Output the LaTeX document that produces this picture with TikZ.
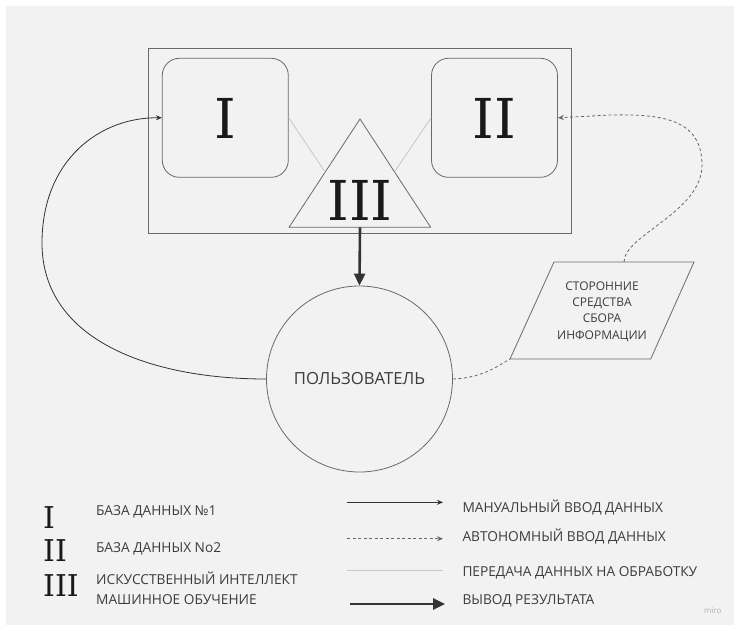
\documentclass[tikz,border=0pt]{standalone}
\usepackage{fontspec}
\setsansfont{Open Sans}
\newfontfamily\numfont{DejaVu Serif}
\usetikzlibrary{arrows.meta}
\definecolor{bg}{HTML}{F2F2F2}
\definecolor{edge}{HTML}{6A6A6A}
\definecolor{ink}{HTML}{333333}
\definecolor{txt}{HTML}{3C3C3C}
\begin{document}
\begin{tikzpicture}[x=1pt,y=-1pt,
  outline/.style={draw=edge, line width=0.8pt},
  dbbox/.style={outline, rounded corners=17pt, minimum width=126pt, minimum height=119pt, inner sep=0pt},
  bignum/.style={font=\numfont\fontsize{55}{55}\selectfont, text=black!90, inner sep=0pt},
  legnum/.style={font=\numfont\fontsize{30}{30}\selectfont, text=black!90, inner sep=0pt, anchor=base west},
  lbl/.style={font=\sffamily\fontsize{13.7}{15}\selectfont, text=txt, inner sep=0pt, anchor=base west},
  manual/.style={draw=ink, line width=0.8pt, -{Stealth[length=6pt,width=5pt]}},
  autoline/.style={draw=black!60, line width=0.8pt, dash pattern=on 3pt off 2.5pt},
  autoarrow/.style={autoline, -{Stealth[length=6pt,width=5pt]}},
  transfer/.style={draw=black!22, line width=0.8pt},
  result/.style={draw=ink, line width=2.6pt, -{Triangle[length=12pt,width=11pt]}},
]
\useasboundingbox (0,0) rectangle (734,625);
\fill[white] (0,0) rectangle (734,625);
\fill[bg] (6,6) rectangle (734,625);

% main frame
\node[outline, minimum width=423pt, minimum height=185pt, inner sep=0pt] (frame) at (359.5,140.5) {};
\node[dbbox] (db1) at (225.3,117.8) {};
\node[bignum] (n1) at (225.7,118.3) {I};
\node[dbbox] (db2) at (494.5,117.8) {};
\node[bignum] (n2) at (494.3,118.3) {II};

% triangle
\coordinate (tapex) at (360,119);
\coordinate (tbl) at (289,227.3);
\coordinate (tbr) at (430.7,227.3);
\coordinate (tbase) at (360,227.3);
\draw[outline, line join=miter] (tapex) -- (tbl) -- (tbr) -- cycle;
\node[bignum] (n3) at (360,200) {III};
\coordinate (tleft) at (324.5,171);
\coordinate (tright) at (395,171);
\draw[transfer] (db1.east) -- (tleft);
\draw[transfer] (db2.west) -- (tright);

% user
\node[outline, circle, minimum size=186pt, inner sep=0pt,
      font=\sffamily\fontsize{16.7}{18}\selectfont, text=txt] (user) at (359.5,379) {ПОЛЬЗОВАТЕЛЬ};
\draw[result] (tbase) -- (user.north);

% parallelogram
\coordinate (ptl) at (554,262);
\coordinate (ptr) at (694,262);
\coordinate (pbr) at (650.7,359);
\coordinate (pbl) at (510,359);
\coordinate (ptop) at (624,262);
\draw[outline, line join=miter] (ptl) -- (ptr) -- (pbr) -- (pbl) -- cycle;
\node[font=\sffamily\fontsize{12}{16.4}\selectfont, text=txt, align=center, inner sep=0pt] (src) at (602,311.5)
  {СТОРОННИЕ\\СРЕДСТВА\\СБОРА\\ИНФОРМАЦИИ};

% connectors
\draw[manual] (user.west) .. controls (150,379) and (42,340) .. (42,243)
  .. controls (42,160) and (100,117) .. (db1.west);
\draw[autoline] (user.east) .. controls (480,378) and (495,368) .. (pbl);
\draw[autoarrow] (ptop) .. controls (624,235) and (702,212) .. (702,165)
  .. controls (702,118) and (660,114) .. (610,115) -- (db2.east);

% legend left
\node[legnum] (l1) at (43,528.3) {I};
\node[legnum] (l2) at (43,561.7) {II};
\node[legnum] (l3) at (43,596.7) {III};
\node[lbl] (t1) at (96,515) {БАЗА ДАННЫХ №1};
\node[lbl] (t2) at (96,552) {БАЗА ДАННЫХ No2};
\node[lbl] (t3) at (96,584.3) {ИСКУССТВЕННЫЙ ИНТЕЛЛЕКТ};
\node[lbl] (t4) at (96,604) {МАШИННОЕ ОБУЧЕНИЕ};

% legend right
\coordinate (a1) at (347,502.3); \coordinate (b1) at (443,502.3);
\coordinate (a2) at (347,538.7); \coordinate (b2) at (443,538.7);
\coordinate (a3) at (347,570);   \coordinate (b3) at (443,570);
\coordinate (a4) at (350,604);   \coordinate (b4) at (445,604);
\draw[manual] (a1) -- (b1);
\draw[autoarrow] (a2) -- (b2);
\draw[transfer] (a3) -- (b3);
\draw[result] (a4) -- (b4);
\node[lbl] (r1) at (462.3,512.3) {МАНУАЛЬНЫЙ ВВОД ДАННЫХ};
\node[lbl] (r2) at (462.3,541.7) {АВТОНОМНЫЙ ВВОД ДАННЫХ};
\node[lbl] (r3) at (462.3,576.7) {ПЕРЕДАЧА ДАННЫХ НА ОБРАБОТКУ};
\node[lbl] (r4) at (462.3,604.3) {ВЫВОД РЕЗУЛЬТАТА};
\node[font=\sffamily\fontsize{8}{9}\selectfont, text=black!30, inner sep=0pt] (miro) at (712.7,610.7) {miro};
\end{tikzpicture}
\end{document}
